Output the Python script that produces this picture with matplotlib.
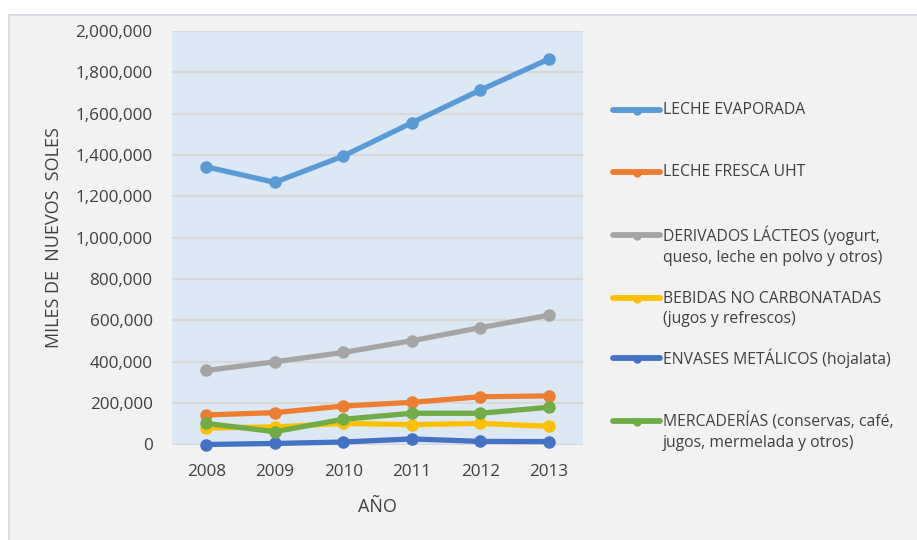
import matplotlib
matplotlib.use("Agg")
import matplotlib.pyplot as plt
from matplotlib.lines import Line2D
from matplotlib.patches import Rectangle
from matplotlib.ticker import FuncFormatter

plt.rcParams['font.family'] = ['Open Sans', 'DejaVu Sans']

years = ["2008", "2009", "2010", "2011", "2012", "2013"]

leche_evaporada = [1343000, 1268000, 1395000, 1556000, 1714000, 1864000]
leche_fresca_uht = [143000, 154000, 186000, 204000, 231000, 235000]
derivados_lacteos = [358000, 400000, 445000, 502000, 565000, 625000]
bebidas_no_carbonatadas = [80000, 85000, 102000, 96000, 102000, 88000]
envases_metalicos = [0, 5000, 12000, 27000, 15000, 14000]
mercaderias = [102000, 62000, 122000, 151000, 151000, 180000]

series_labels = [
    "LECHE EVAPORADA",
    "LECHE FRESCA UHT",
    "DERIVADOS LÁCTEOS (yogurt,\nqueso, leche en polvo y otros)",
    "BEBIDAS NO CARBONATADAS\n(jugos y refrescos)",
    "ENVASES METÁLICOS (hojalata)",
    "MERCADERÍAS (conservas, café,\njugos, mermelada y otros)",
]
series_values = [leche_evaporada, leche_fresca_uht, derivados_lacteos,
                 bebidas_no_carbonatadas, envases_metalicos, mercaderias]
series_colors = ["#5b9bd5", "#ed7d31", "#a5a5a5", "#ffc000", "#4472c4", "#70ad47"]

y_ticks = list(range(0, 2000001, 200000))

W, H = 917, 540
fig = plt.figure(figsize=(W / 100, H / 100), dpi=100, facecolor="white")

# light grey chart panel (runs off the right and bottom edges)
panel = Rectangle((9 / W, -0.05), 1.1, 1.05 - 15 / H, transform=fig.transFigure,
                  facecolor="#f2f2f2", edgecolor="#d9dce6", linewidth=1.4, zorder=-5)
fig.patches.append(panel)

ax = fig.add_axes([172 / W, 1 - 444.5 / H, 411 / W, 413.5 / H])
ax.set_zorder(2)
ax.set_facecolor("#dde8f5")
for sp in ax.spines.values():
    sp.set_visible(False)

x = list(range(len(years)))
for vals, col in zip(series_values, series_colors):
    ax.plot(x, vals, color=col, linewidth=3.8, marker="o", markersize=8,
            solid_capstyle="round", zorder=3, clip_on=False)

ax.set_xlim(-0.5, len(years) - 0.5)
ax.set_ylim(0, 2000000)
ax.set_xticks(x)
ax.set_xticklabels(years)
ax.set_yticks(y_ticks)
ax.yaxis.set_major_formatter(FuncFormatter(lambda v, p: f"{int(v):,}"))
ax.grid(axis="y", color="#d9d9d9", linewidth=1.6, zorder=1)
ax.set_axisbelow(True)
ax.tick_params(axis="both", length=0, labelsize=12.3, colors="#404040")
ax.tick_params(axis="y", pad=14)
ax.tick_params(axis="x", pad=14)

ax.set_xlabel("AÑO", fontsize=13, color="#404040", labelpad=13)
ax.set_ylabel("MILES DE  NUEVOS  SOLES", fontsize=13, color="#404040", labelpad=9)

# legend entries
legend_y = [110, 172, 246, 309, 358, 432]
for lab, col, yy in zip(series_labels, series_colors, legend_y):
    yf = 1 - yy / H
    nlines = lab.count("\n") + 1
    hy = yf + (0.0 if nlines == 1 else 11.5 / H)
    fig.add_artist(Line2D([613 / W, 660 / W], [hy, hy], transform=fig.transFigure,
                          color=col, linewidth=4.2, solid_capstyle="round"))
    fig.add_artist(Line2D([637 / W], [hy - 1 / H], transform=fig.transFigure,
                          color=col, marker="o", markersize=5, linestyle="none"))
    fig.text(663 / W, yf, lab, fontsize=11.3, color="#404040", va="center", ha="left",
             linespacing=1.4)

fig.savefig("out.png", dpi=100, facecolor=fig.get_facecolor())
